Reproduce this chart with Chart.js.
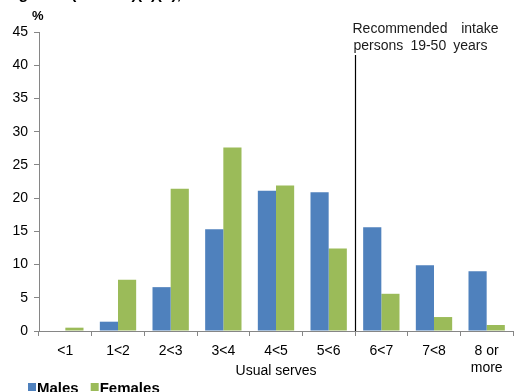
<!DOCTYPE html>
<html>
<head>
<meta charset="utf-8">
<script src="https://cdn.jsdelivr.net/npm/chart.js@4/dist/chart.umd.min.js"></script>
<style>
  html, body { margin: 0; padding: 0; background: #fff; }
  #c { display: block; }
</style>
</head>
<body>
<canvas id="c" width="516" height="392"></canvas>
<script>
// ── data ─────────────────────────────────────────
const categories = ['<1', '1<2', '2<3', '3<4', '4<5', '5<6', '6<7', '7<8', ['8 or', 'more']];
const males   = [0, 1.4, 6.6, 15.3, 21.1, 20.9, 15.6, 9.9, 9.0];
const females = [0.5, 7.7, 21.4, 27.6, 21.9, 12.4, 5.6, 2.1, 0.9];
const titleText = 'of grains (cereals)(a)(b), 2011-12';
const noteLines = ['Recommended intake', 'persons 19-50 years'];
const recommendedFrom = 6; // first category index inside recommended range

const FONT = 'Arial, "Liberation Sans", sans-serif';
Chart.defaults.font.family = FONT;
Chart.defaults.color = '#000';

// words spread over a fixed width (justified look of the source)
function spreadText(ctx, text, x0, x1, baseY) {
  const words = text.split(' ');
  const total = words.reduce((s, w) => s + ctx.measureText(w).width, 0);
  const gap = words.length > 1 ? (x1 - x0 - total) / (words.length - 1) : 0;
  let x = x0;
  words.forEach(w => {
    ctx.fillText(w, x, baseY);
    x += ctx.measureText(w).width + gap;
  });
}

// ── extras drawn on top: title, %, note, marker line, legend ──
const extras = {
  id: 'extras',
  afterDraw(chart) {
    const ctx = chart.ctx;
    const x = chart.scales.x, y = chart.scales.y;
    ctx.save();
    // cut-off title
    ctx.fillStyle = '#000';
    ctx.font = 'bold 16px ' + FONT;
    ctx.textBaseline = 'alphabetic';
    ctx.textAlign = 'left';
    ctx.fillText(titleText, -1, -1);
    // unit
    ctx.font = 'bold 13px ' + FONT;
    ctx.fillText('%', 32, 20);
    // recommended intake marker
    const lx = Math.round((x.getPixelForValue(recommendedFrom - 1) + x.getPixelForValue(recommendedFrom)) / 2) + 0.5;
    ctx.strokeStyle = '#000';
    ctx.lineWidth = 1.2;
    ctx.beginPath();
    ctx.moveTo(lx, 55);
    ctx.lineTo(lx, y.getPixelForValue(0));
    ctx.stroke();
    ctx.font = '14px ' + FONT;
    ctx.fillStyle = '#1a1a1a';
    spreadText(ctx, noteLines[0], lx - 3, lx + 143, 33);
    spreadText(ctx, noteLines[1], lx - 2, lx + 132, 50);
    // legend (cut at bottom edge)
    ctx.font = 'bold 15px ' + FONT;
    let lxPos = 28;
    chart.data.datasets.forEach(ds => {
      ctx.fillStyle = ds.backgroundColor;
      ctx.fillRect(lxPos, 383, 8, 8);
      ctx.fillStyle = '#000';
      ctx.fillText(ds.label, lxPos + 9, 393);
      lxPos += 9 + ctx.measureText(ds.label).width + 12;
    });
    ctx.restore();
  }
};

new Chart(document.getElementById('c'), {
  type: 'bar',
  data: {
    labels: categories,
    datasets: [
      { label: 'Males', data: males, backgroundColor: '#4F81BD', categoryPercentage: 0.69, barPercentage: 1 },
      { label: 'Females', data: females, backgroundColor: '#9BBB59', categoryPercentage: 0.69, barPercentage: 1 }
    ]
  },
  options: {
    responsive: false,
    animation: false,
    layout: { padding: { top: 32, right: 3, left: 0, bottom: 0 } },
    plugins: { legend: { display: false }, tooltip: { enabled: false } },
    scales: {
      x: {
        offset: true,
        grid: { offset: true, drawOnChartArea: false, drawTicks: true, tickLength: 5, color: '#868686' },
        border: { color: '#868686', width: 1 },
        ticks: { font: { size: 14 }, color: '#000', padding: 7, maxRotation: 0, autoSkip: false },
        title: { display: true, text: 'Usual serves', font: { size: 14 }, color: '#000', padding: { top: 0, bottom: 12 } },
        afterFit(s) { s.height = 61; }
      },
      y: {
        min: 0, max: 45,
        ticks: { stepSize: 5, font: { size: 14 }, color: '#000', padding: 6 },
        grid: { drawOnChartArea: false, drawTicks: true, tickLength: 5, color: '#868686' },
        border: { color: '#868686', width: 1 },
        afterFit(s) { s.width = 39; }
      }
    }
  },
  plugins: [extras]
});
</script>
</body>
</html>
